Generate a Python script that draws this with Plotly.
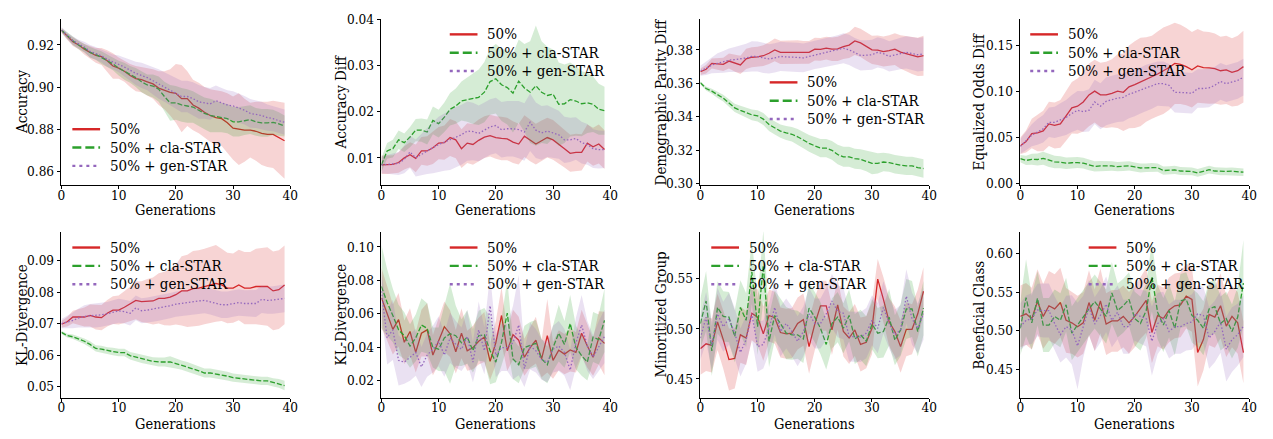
import plotly.graph_objects as go

generations = list(range(40))

# ---- Accuracy ----
accuracy_base = [0.927,0.924,0.9215,0.920,0.918,0.9165,0.915,0.9145,0.9125,0.910,0.909,0.9075,0.9055,0.904,0.9035,0.9025,0.9015,0.8995,0.8985,0.8975,0.897,0.8945,0.8945,0.8915,0.890,0.888,0.8865,0.8855,0.885,0.883,0.8805,0.880,0.8795,0.8795,0.879,0.878,0.8775,0.8775,0.876,0.8745]
accuracy_base_std = [0.001,0.0015,0.002,0.002,0.0025,0.003,0.0035,0.004,0.005,0.006,0.005,0.005,0.0055,0.006,0.006,0.0065,0.007,0.008,0.009,0.011,0.014,0.016,0.013,0.012,0.012,0.012,0.0125,0.013,0.013,0.014,0.015,0.017,0.015,0.013,0.014,0.015,0.0155,0.016,0.017,0.018]
accuracy_cla = [0.927,0.9245,0.922,0.920,0.9185,0.9165,0.9155,0.914,0.9125,0.911,0.909,0.9075,0.906,0.9045,0.9025,0.901,0.9005,0.899,0.8955,0.8925,0.8925,0.8915,0.891,0.8905,0.889,0.8875,0.8865,0.886,0.8855,0.885,0.8835,0.8835,0.884,0.8845,0.8835,0.883,0.883,0.8832,0.8825,0.8815]
accuracy_cla_std = [0.001,0.0015,0.002,0.002,0.002,0.0025,0.0025,0.003,0.003,0.003,0.0035,0.004,0.004,0.0045,0.005,0.005,0.0055,0.006,0.007,0.0085,0.008,0.008,0.008,0.0075,0.0075,0.0075,0.008,0.0075,0.007,0.007,0.007,0.007,0.0068,0.0068,0.0066,0.0066,0.0066,0.006,0.0055,0.005]
accuracy_gen = [0.927,0.9245,0.922,0.9205,0.919,0.917,0.916,0.9148,0.9132,0.912,0.911,0.9095,0.908,0.9065,0.9055,0.9045,0.903,0.9015,0.9,0.8985,0.897,0.8955,0.8955,0.8945,0.893,0.8925,0.892,0.8935,0.8925,0.8915,0.891,0.890,0.889,0.8875,0.887,0.8865,0.8855,0.885,0.884,0.8833]
accuracy_gen_std = [0.0015,0.0015,0.002,0.002,0.0025,0.003,0.003,0.003,0.0035,0.0035,0.004,0.0045,0.005,0.0055,0.006,0.006,0.0065,0.007,0.007,0.0072,0.0075,0.0075,0.0075,0.0078,0.008,0.0075,0.0075,0.0072,0.007,0.007,0.007,0.007,0.0068,0.0068,0.0065,0.0065,0.0062,0.006,0.006,0.006]

# ---- Accuracy Diff ----
accdiff_base = [0.0085,0.0085,0.0086,0.009,0.010,0.0107,0.0099,0.0115,0.0115,0.0122,0.0132,0.0133,0.0144,0.0139,0.012,0.0132,0.0129,0.0138,0.0145,0.0148,0.0144,0.0142,0.0141,0.0134,0.013,0.0147,0.0138,0.013,0.0137,0.0144,0.0139,0.013,0.012,0.011,0.0112,0.0112,0.0132,0.0124,0.013,0.0118]
accdiff_base_std = [0.002,0.002,0.002,0.0022,0.0025,0.0027,0.003,0.003,0.0032,0.0035,0.0035,0.0037,0.004,0.004,0.0042,0.0043,0.0044,0.0045,0.0045,0.0045,0.0046,0.0047,0.0046,0.0045,0.0044,0.0045,0.0045,0.0044,0.0044,0.0043,0.0043,0.0042,0.0041,0.004,0.004,0.0039,0.004,0.0041,0.0042,0.0042]
accdiff_cla = [0.0085,0.0115,0.012,0.0139,0.0133,0.0145,0.016,0.016,0.0156,0.0181,0.0174,0.0188,0.0205,0.0212,0.0223,0.0226,0.0228,0.0231,0.0242,0.0265,0.0271,0.0258,0.0252,0.024,0.0266,0.0251,0.0242,0.0256,0.0242,0.0235,0.0238,0.0216,0.0217,0.0226,0.0223,0.0217,0.0219,0.0216,0.0205,0.0202]
accdiff_cla_std = [0.0015,0.0017,0.0019,0.002,0.002,0.0022,0.0024,0.0025,0.0027,0.003,0.003,0.0032,0.0035,0.0038,0.0042,0.0048,0.0055,0.006,0.0065,0.0072,0.0075,0.0078,0.008,0.0085,0.009,0.0095,0.011,0.013,0.011,0.0105,0.0096,0.009,0.0085,0.008,0.0075,0.007,0.0065,0.006,0.0055,0.0052]
accdiff_gen = [0.0085,0.0086,0.0087,0.0088,0.0097,0.0113,0.0100,0.0108,0.0115,0.0122,0.0129,0.0134,0.0139,0.0145,0.015,0.0158,0.0157,0.0153,0.016,0.0167,0.017,0.0161,0.0163,0.0163,0.0161,0.0156,0.0177,0.016,0.0154,0.0158,0.0154,0.015,0.0139,0.0139,0.0142,0.0133,0.0129,0.012,0.0118,0.0118]
accdiff_gen_std = [0.0018,0.002,0.0022,0.0025,0.003,0.0035,0.004,0.0045,0.005,0.0055,0.006,0.0062,0.0065,0.0065,0.0065,0.0064,0.0062,0.006,0.006,0.006,0.006,0.006,0.006,0.006,0.0062,0.0062,0.0062,0.006,0.0058,0.0056,0.0054,0.0052,0.005,0.0048,0.0046,0.0045,0.0044,0.0042,0.0041,0.004]

# ---- Demographic Parity Diff ----
dpd_base = [0.3669,0.3684,0.3719,0.3715,0.3713,0.3733,0.372,0.371,0.3746,0.3756,0.3758,0.3765,0.378,0.380,0.3785,0.3785,0.3785,0.3788,0.3785,0.3785,0.3804,0.3803,0.381,0.3804,0.3806,0.382,0.3829,0.3854,0.3842,0.382,0.380,0.3798,0.379,0.3796,0.3804,0.3787,0.3777,0.3765,0.3758,0.3765]
dpd_base_std = [0.002,0.0025,0.003,0.0035,0.004,0.0045,0.005,0.0055,0.006,0.006,0.006,0.0062,0.0065,0.0068,0.007,0.007,0.007,0.007,0.0068,0.0068,0.0068,0.0068,0.0068,0.007,0.0072,0.0075,0.0078,0.0085,0.0085,0.0085,0.0085,0.0088,0.009,0.0092,0.0095,0.01,0.0105,0.011,0.0115,0.012]
dpd_cla = [0.3603,0.3569,0.3553,0.353,0.3511,0.3482,0.3453,0.3438,0.3424,0.3411,0.3405,0.3386,0.3353,0.3334,0.3314,0.3303,0.3295,0.328,0.326,0.3241,0.3226,0.3212,0.3212,0.3199,0.3174,0.316,0.316,0.3149,0.3145,0.3135,0.3121,0.3121,0.3129,0.3125,0.3116,0.311,0.3106,0.3106,0.3096,0.309]
dpd_cla_std = [0.0008,0.0012,0.0015,0.0018,0.002,0.0022,0.0025,0.0028,0.003,0.0032,0.0034,0.0036,0.0038,0.004,0.004,0.0042,0.0044,0.0046,0.0048,0.005,0.0052,0.0054,0.0055,0.0056,0.0058,0.006,0.006,0.006,0.006,0.0062,0.0065,0.006,0.0055,0.0055,0.0055,0.0055,0.0055,0.0055,0.0055,0.0055]
dpd_gen = [0.3675,0.369,0.371,0.372,0.3728,0.3738,0.3742,0.3745,0.3752,0.3761,0.376,0.3752,0.3746,0.3752,0.3761,0.3758,0.3758,0.3755,0.3752,0.376,0.3771,0.3778,0.3785,0.3792,0.380,0.381,0.380,0.3781,0.3767,0.3768,0.3771,0.3785,0.3777,0.3761,0.3771,0.3778,0.3785,0.378,0.3771,0.3775]
dpd_gen_std = [0.003,0.004,0.005,0.006,0.0065,0.007,0.0075,0.008,0.0085,0.009,0.009,0.009,0.0088,0.0088,0.0088,0.0088,0.0087,0.0087,0.0086,0.0086,0.0086,0.0086,0.0086,0.0087,0.0088,0.009,0.009,0.009,0.009,0.009,0.009,0.009,0.009,0.009,0.0092,0.0094,0.0096,0.0098,0.01,0.01]

# ---- Equalized Odds Diff ----
eod_base = [0.0409,0.0455,0.0542,0.0549,0.057,0.0647,0.063,0.0647,0.0734,0.0822,0.0839,0.0885,0.0962,0.1003,0.0962,0.0962,0.0979,0.1003,0.099,0.1049,0.1073,0.1101,0.1129,0.1154,0.1189,0.1224,0.1259,0.1304,0.1294,0.1269,0.1234,0.1276,0.1259,0.1255,0.1248,0.1224,0.1234,0.1206,0.1224,0.1269]
eod_base_std = [0.009,0.012,0.016,0.02,0.022,0.024,0.025,0.026,0.027,0.028,0.03,0.032,0.034,0.034,0.035,0.036,0.037,0.04,0.042,0.045,0.047,0.048,0.046,0.045,0.046,0.047,0.046,0.044,0.043,0.042,0.041,0.04,0.039,0.039,0.038,0.037,0.037,0.037,0.038,0.039]
eod_cla = [0.0269,0.025,0.0262,0.026,0.0273,0.025,0.0234,0.023,0.022,0.0225,0.0227,0.022,0.0199,0.0185,0.019,0.0192,0.019,0.0182,0.0185,0.0192,0.018,0.0168,0.017,0.0175,0.0172,0.014,0.0142,0.0147,0.0135,0.0129,0.013,0.0115,0.013,0.015,0.0135,0.0129,0.013,0.0133,0.0125,0.0122]
eod_cla_std = [0.004,0.005,0.006,0.0065,0.007,0.007,0.0068,0.0065,0.0062,0.006,0.006,0.0058,0.0056,0.0055,0.0055,0.0054,0.0052,0.005,0.005,0.005,0.0048,0.0048,0.0046,0.0046,0.0045,0.0045,0.0044,0.0044,0.0043,0.0043,0.0042,0.0042,0.0042,0.0042,0.004,0.004,0.004,0.004,0.004,0.004]
eod_gen = [0.0402,0.046,0.0524,0.056,0.0594,0.0664,0.0664,0.069,0.0717,0.076,0.0794,0.078,0.0794,0.0885,0.0839,0.0892,0.091,0.0927,0.0934,0.0969,0.099,0.101,0.1038,0.106,0.1084,0.1084,0.1066,0.099,0.099,0.0985,0.0979,0.1031,0.1031,0.1038,0.1066,0.1108,0.1084,0.1101,0.1119,0.1154]
eod_gen_std = [0.008,0.01,0.012,0.014,0.015,0.016,0.017,0.018,0.019,0.02,0.021,0.022,0.023,0.024,0.025,0.026,0.026,0.026,0.026,0.026,0.026,0.025,0.025,0.025,0.024,0.024,0.023,0.022,0.022,0.022,0.022,0.021,0.021,0.021,0.02,0.02,0.02,0.02,0.02,0.02]

# ---- KL-Divergence (trend) ----
kl_base = [0.0698,0.0706,0.0721,0.0721,0.0721,0.0726,0.0721,0.0719,0.0733,0.0743,0.0743,0.0752,0.0762,0.0774,0.077,0.0772,0.0772,0.078,0.078,0.0784,0.0792,0.0804,0.0804,0.0811,0.0813,0.0818,0.0823,0.0828,0.0823,0.0813,0.0813,0.0823,0.0813,0.0813,0.0818,0.0818,0.0818,0.0804,0.0808,0.0823]
kl_base_std = [0.001,0.0015,0.002,0.0025,0.003,0.0035,0.004,0.004,0.0042,0.0044,0.0046,0.005,0.0055,0.006,0.0065,0.007,0.0075,0.008,0.0085,0.009,0.0095,0.011,0.0115,0.012,0.012,0.012,0.012,0.0122,0.0115,0.0112,0.011,0.0112,0.0115,0.0115,0.012,0.0122,0.0125,0.0125,0.0125,0.0125]
kl_cla = [0.0672,0.0662,0.0658,0.0651,0.0644,0.0634,0.0621,0.0619,0.0614,0.0611,0.0608,0.0608,0.0598,0.0593,0.0588,0.0583,0.058,0.0578,0.0578,0.0578,0.0573,0.0568,0.0563,0.0556,0.055,0.0543,0.0543,0.054,0.0536,0.0533,0.0528,0.0526,0.0523,0.0523,0.052,0.0518,0.0518,0.0513,0.051,0.0503]
kl_cla_std = [0.0005,0.0006,0.0007,0.0008,0.0009,0.001,0.001,0.0011,0.0011,0.0012,0.0012,0.0012,0.0012,0.0013,0.0013,0.0013,0.0013,0.0014,0.0014,0.0018,0.0016,0.0015,0.0015,0.0015,0.0015,0.0014,0.0014,0.0014,0.0014,0.0014,0.0013,0.0013,0.0013,0.0013,0.0013,0.0013,0.0013,0.0013,0.0014,0.0015]
kl_gen = [0.070,0.0705,0.071,0.0718,0.0723,0.0725,0.0726,0.0728,0.0731,0.0736,0.0741,0.0738,0.0733,0.075,0.0741,0.0743,0.0746,0.0749,0.0752,0.0757,0.0762,0.0765,0.0767,0.077,0.0772,0.0774,0.077,0.0765,0.076,0.076,0.0764,0.0767,0.0764,0.0764,0.0764,0.0777,0.0774,0.0775,0.0777,0.078]
kl_gen_std = [0.0015,0.002,0.0025,0.003,0.0035,0.0037,0.0038,0.0038,0.0038,0.0038,0.0038,0.0038,0.0039,0.0039,0.004,0.004,0.004,0.004,0.004,0.004,0.004,0.004,0.004,0.004,0.0041,0.0041,0.0041,0.0041,0.0042,0.0042,0.0042,0.0042,0.0042,0.0042,0.0043,0.0043,0.0043,0.0044,0.0044,0.0044]

# ---- KL-Divergence (per generation) ----
kl2_base = [0.0695,0.0599,0.0506,0.0564,0.0429,0.0493,0.0368,0.0483,0.0503,0.0352,0.0435,0.0522,0.048,0.0372,0.0483,0.0378,0.0397,0.0435,0.046,0.0314,0.0426,0.0589,0.0378,0.0474,0.0441,0.0339,0.0397,0.0441,0.0329,0.0468,0.032,0.0381,0.0358,0.0383,0.0368,0.0483,0.0406,0.0339,0.0455,0.0422]
kl2_base_std = [0.018,0.016,0.015,0.016,0.013,0.014,0.012,0.014,0.016,0.012,0.014,0.015,0.014,0.013,0.015,0.012,0.013,0.014,0.015,0.011,0.013,0.017,0.012,0.015,0.014,0.011,0.012,0.014,0.011,0.022,0.011,0.012,0.012,0.013,0.012,0.014,0.013,0.011,0.016,0.019]
kl2_cla = [0.0763,0.0667,0.0589,0.0503,0.0468,0.0406,0.0455,0.0532,0.0512,0.0397,0.0387,0.0455,0.048,0.0468,0.0426,0.046,0.0378,0.0468,0.0474,0.0378,0.031,0.0429,0.0603,0.0329,0.0294,0.0397,0.041,0.0422,0.0329,0.0294,0.0397,0.0483,0.0416,0.0541,0.0397,0.0349,0.031,0.046,0.0445,0.056]
kl2_cla_std = [0.025,0.02,0.016,0.015,0.014,0.013,0.014,0.016,0.015,0.012,0.013,0.02,0.03,0.018,0.014,0.016,0.013,0.015,0.016,0.02,0.012,0.014,0.02,0.012,0.011,0.013,0.014,0.014,0.012,0.011,0.014,0.017,0.014,0.017,0.013,0.012,0.011,0.015,0.015,0.019]
kl2_gen = [0.0734,0.0455,0.0503,0.032,0.031,0.0339,0.0368,0.0281,0.0352,0.0387,0.0435,0.0352,0.0455,0.0416,0.0387,0.0464,0.031,0.0503,0.0378,0.0647,0.0349,0.0397,0.0397,0.0426,0.0532,0.0271,0.0406,0.0378,0.0325,0.031,0.0387,0.0406,0.0368,0.0262,0.0426,0.0532,0.0406,0.0339,0.0406,0.0464]
kl2_gen_std = [0.012,0.016,0.018,0.015,0.013,0.014,0.014,0.012,0.013,0.014,0.015,0.013,0.015,0.014,0.013,0.016,0.012,0.017,0.014,0.019,0.013,0.014,0.014,0.022,0.03,0.011,0.014,0.013,0.012,0.012,0.014,0.015,0.014,0.012,0.015,0.018,0.015,0.013,0.015,0.016]

# ---- Minoritized Group ----
minor_base = [0.4802,0.485,0.4834,0.5069,0.4892,0.4693,0.4705,0.494,0.4908,0.5156,0.5117,0.495,0.5133,0.5111,0.4963,0.495,0.4957,0.5053,0.5092,0.4822,0.5047,0.523,0.523,0.4989,0.524,0.4973,0.4908,0.4989,0.4844,0.4866,0.5005,0.5497,0.5294,0.5069,0.4973,0.4822,0.4995,0.4995,0.515,0.5375]
minor_base_std = [0.026,0.027,0.027,0.028,0.029,0.031,0.03,0.028,0.027,0.027,0.028,0.027,0.026,0.026,0.025,0.025,0.025,0.026,0.026,0.027,0.026,0.025,0.025,0.025,0.025,0.025,0.026,0.026,0.027,0.026,0.026,0.02,0.022,0.024,0.025,0.026,0.027,0.025,0.024,0.024]
minor_cla = [0.5053,0.5278,0.478,0.5214,0.5124,0.5117,0.4924,0.5214,0.5085,0.5568,0.5021,0.5632,0.4876,0.5133,0.5053,0.4957,0.494,0.494,0.4899,0.5207,0.5117,0.5005,0.4844,0.5053,0.5117,0.5005,0.5133,0.4899,0.494,0.4876,0.5047,0.4957,0.4973,0.5117,0.4886,0.4989,0.5198,0.5198,0.4973,0.5207]
minor_cla_std = [0.025,0.03,0.025,0.026,0.025,0.025,0.026,0.027,0.027,0.032,0.028,0.035,0.026,0.025,0.025,0.026,0.025,0.024,0.024,0.025,0.025,0.026,0.025,0.025,0.025,0.025,0.026,0.025,0.025,0.025,0.025,0.025,0.026,0.028,0.025,0.026,0.03,0.028,0.025,0.027]
minor_gen = [0.4908,0.5117,0.4834,0.515,0.5021,0.5101,0.4957,0.4764,0.4892,0.515,0.4822,0.4844,0.5005,0.5214,0.4973,0.5053,0.4973,0.4876,0.4973,0.515,0.5053,0.5053,0.515,0.5278,0.5175,0.5156,0.4924,0.4918,0.4918,0.4957,0.5085,0.5005,0.5214,0.5053,0.494,0.4989,0.5326,0.5101,0.5005,0.515]
minor_gen_std = [0.022,0.025,0.024,0.026,0.025,0.026,0.025,0.024,0.024,0.026,0.025,0.024,0.025,0.027,0.025,0.025,0.025,0.025,0.025,0.026,0.025,0.025,0.026,0.027,0.026,0.026,0.025,0.025,0.025,0.025,0.025,0.025,0.026,0.025,0.025,0.025,0.027,0.026,0.025,0.026]

# ---- Beneficial Class ----
benef_base = [0.5185,0.5219,0.5156,0.5378,0.5185,0.5323,0.5282,0.5365,0.5135,0.5102,0.5052,0.5102,0.5365,0.5135,0.5386,0.5085,0.5127,0.5127,0.5185,0.5102,0.5185,0.5294,0.5394,0.4977,0.5198,0.5156,0.5269,0.5323,0.5336,0.5449,0.5407,0.4717,0.4884,0.521,0.5177,0.5323,0.506,0.5185,0.5102,0.4717]
benef_base_std = [0.04,0.04,0.04,0.042,0.042,0.045,0.045,0.045,0.042,0.04,0.04,0.04,0.042,0.04,0.042,0.04,0.04,0.04,0.04,0.04,0.04,0.04,0.042,0.04,0.04,0.04,0.042,0.042,0.042,0.042,0.042,0.044,0.04,0.04,0.04,0.042,0.04,0.04,0.04,0.04]
benef_cla = [0.5031,0.5428,0.5102,0.542,0.5073,0.5073,0.5185,0.5135,0.5336,0.4968,0.5073,0.5185,0.5282,0.5378,0.5282,0.5185,0.549,0.5261,0.5323,0.5407,0.5156,0.5093,0.5261,0.5699,0.524,0.5073,0.5261,0.5031,0.5386,0.5407,0.5198,0.5135,0.5031,0.5282,0.5311,0.5093,0.5156,0.4989,0.5177,0.5616]
benef_cla_std = [0.035,0.05,0.035,0.035,0.035,0.035,0.035,0.035,0.035,0.035,0.035,0.035,0.035,0.035,0.035,0.035,0.04,0.035,0.035,0.035,0.035,0.035,0.035,0.045,0.035,0.035,0.035,0.035,0.035,0.035,0.035,0.035,0.035,0.035,0.035,0.035,0.035,0.035,0.04,0.056]
benef_gen = [0.5052,0.5135,0.5156,0.5269,0.5261,0.5261,0.5093,0.4948,0.5052,0.501,0.4801,0.5052,0.5302,0.5085,0.5198,0.5344,0.5135,0.524,0.5052,0.5052,0.5219,0.5185,0.5156,0.4864,0.5093,0.5156,0.4989,0.5052,0.5052,0.5093,0.5114,0.5219,0.5198,0.4906,0.4989,0.5114,0.476,0.4885,0.4948,0.506]
benef_gen_std = [0.03,0.032,0.033,0.034,0.035,0.035,0.035,0.036,0.04,0.045,0.056,0.04,0.036,0.035,0.035,0.036,0.035,0.035,0.035,0.035,0.035,0.035,0.036,0.045,0.04,0.035,0.035,0.035,0.035,0.035,0.036,0.037,0.037,0.04,0.04,0.04,0.042,0.042,0.04,0.04]

series_names = ["50%", "50% + cla-STAR", "50% + gen-STAR"]
x_ticks = [0, 10, 20, 30, 40]

W, H = 1273, 439
FONT = "DejaVu Serif Condensed, DejaVu Serif"
LINE_COLORS = ["#d62728", "#2ca02c", "#9467bd"]
FILL_COLORS = ["rgba(214,39,40,0.2)", "rgba(44,160,44,0.2)", "rgba(148,103,189,0.2)"]
LINE_DASH = ["solid", "5px,2px", "1.5px,2px"]
KEY_DASH = ["solid", "9px,4px", "3px,4px"]

# subplot boxes in pixels: columns (left, right), rows (top, bottom)
COLS = [(58, 289), (381, 612), (703, 934), (1026, 1257)]
ROWS = [(11, 183), (231.7, 403.3)]
YLABEL_X = [17.5, 340, 663, 984]
XLABEL_Y = [209.5, 430.5]

panels = [
    dict(ylabel="Accuracy", data=[(accuracy_base, accuracy_base_std), (accuracy_cla, accuracy_cla_std), (accuracy_gen, accuracy_gen_std)],
         yrange=[0.8536, 0.9325], yticks=[0.86, 0.88, 0.90, 0.92], key=(107, 125.5)),
    dict(ylabel="Accuracy Diff", data=[(accdiff_base, accdiff_base_std), (accdiff_cla, accdiff_cla_std), (accdiff_gen, accdiff_gen_std)],
         yrange=[0.0042, 0.0401], yticks=[0.01, 0.02, 0.03, 0.04], key=(488, 27.3)),
    dict(ylabel="Demographic Parity Diff", data=[(dpd_base, dpd_base_std), (dpd_cla, dpd_cla_std), (dpd_gen, dpd_gen_std)],
         yrange=[0.2993, 0.3987], yticks=[0.30, 0.32, 0.34, 0.36, 0.38], key=(811, 77)),
    dict(ylabel="Equalized Odds Diff", data=[(eod_base, eod_base_std), (eod_cla, eod_cla_std), (eod_gen, eod_gen_std)],
         yrange=[-0.0014, 0.179], yticks=[0.0, 0.05, 0.10, 0.15], key=(1074, 27.3)),
    dict(ylabel="KL-Divergence", data=[(kl_base, kl_base_std), (kl_cla, kl_cla_std), (kl_gen, kl_gen_std)],
         yrange=[0.0465, 0.0992], yticks=[0.05, 0.06, 0.07, 0.08, 0.09], key=(107, 248)),
    dict(ylabel="KL-Divergence", data=[(kl2_base, kl2_base_std), (kl2_cla, kl2_cla_std), (kl2_gen, kl2_gen_std)],
         yrange=[0.0098, 0.109], yticks=[0.02, 0.04, 0.06, 0.08, 0.10], key=(488, 248)),
    dict(ylabel="Minoritized Group", data=[(minor_base, minor_base_std), (minor_cla, minor_cla_std), (minor_gen, minor_gen_std)],
         yrange=[0.4314, 0.5969], yticks=[0.45, 0.50, 0.55], key=(752, 248)),
    dict(ylabel="Beneficial Class", data=[(benef_base, benef_base_std), (benef_cla, benef_cla_std), (benef_gen, benef_gen_std)],
         yrange=[0.4133, 0.6283], yticks=[0.45, 0.50, 0.55, 0.60], key=(1133, 248)),
]
KEY_ROW_GAP = 19

fig = go.Figure()
layout = dict(
    width=W, height=H, margin=dict(l=0, r=0, t=0, b=0),
    paper_bgcolor="white", plot_bgcolor="white", showlegend=False,
    font=dict(family=FONT, size=13.5, color="black"),
)
shapes, annotations = [], []


def px_x(v):
    return v / W


def px_y(v):
    return 1 - v / H


for i, p in enumerate(panels):
    col, row = i % 4, i // 4
    sfx = "" if i == 0 else str(i + 1)
    xa, ya = "x" + sfx, "y" + sfx
    x0, x1 = COLS[col]
    top, bottom = ROWS[row]
    axis_common = dict(
        showline=True, linecolor="black", linewidth=1.3, mirror=False,
        ticks="outside", ticklen=3.5, tickwidth=1, tickcolor="black",
        showgrid=False, zeroline=False, tickfont=dict(family=FONT, size=13.5),
    )
    layout["xaxis" + sfx] = dict(
        axis_common, domain=[px_x(x0), px_x(x1)], anchor=ya, range=[0, 40],
        tickvals=x_ticks, ticklabelstandoff=-6,
    )
    layout["yaxis" + sfx] = dict(
        axis_common, domain=[px_y(bottom), px_y(top)], anchor=xa, range=p["yrange"],
        tickvals=p["yticks"], tickformat=".2f",
    )
    # axis titles
    annotations.append(dict(
        text="Generations", x=px_x((x0 + x1) / 2), y=px_y(XLABEL_Y[row]),
        xref="paper", yref="paper", xanchor="center", yanchor="middle",
        showarrow=False, font=dict(family=FONT, size=14.5), borderpad=0,
    ))
    annotations.append(dict(
        text=p["ylabel"], x=px_x(YLABEL_X[col]), y=px_y((top + bottom) / 2),
        xref="paper", yref="paper", xanchor="center", yanchor="middle",
        textangle=-90, showarrow=False, font=dict(family=FONT, size=15), borderpad=0,
    ))
    # data: mean line followed by its +/- std band
    for k, (mean, std) in enumerate(p["data"]):
        fig.add_trace(go.Scatter(
            x=generations, y=mean, mode="lines", xaxis=xa, yaxis=ya,
            line=dict(color=LINE_COLORS[k], width=1.3, dash=LINE_DASH[k]),
            name=series_names[k], hoverinfo="skip",
        ))
        upper = [m + s for m, s in zip(mean, std)]
        lower = [m - s for m, s in zip(mean, std)]
        fig.add_trace(go.Scatter(
            x=generations + generations[::-1], y=upper + lower[::-1],
            mode="lines", fill="toself", fillcolor=FILL_COLORS[k],
            line=dict(width=0), xaxis=xa, yaxis=ya, hoverinfo="skip",
        ))
    # per-panel key
    tx, ty = p["key"]
    for k, name in enumerate(series_names):
        yk = ty + k * KEY_ROW_GAP
        shapes.append(dict(
            type="line", xref="paper", yref="paper",
            x0=px_x(tx - 38), x1=px_x(tx - 10), y0=px_y(yk), y1=px_y(yk),
            line=dict(color=LINE_COLORS[k], width=2.4, dash=KEY_DASH[k]),
        ))
        annotations.append(dict(
            text=name, x=px_x(tx - 2), y=px_y(yk), xref="paper", yref="paper",
            xanchor="left", yanchor="middle", showarrow=False,
            font=dict(family=FONT, size=15),
        ))

layout["shapes"] = shapes
layout["annotations"] = annotations
fig.update_layout(**layout)
fig.write_html("out.html")
